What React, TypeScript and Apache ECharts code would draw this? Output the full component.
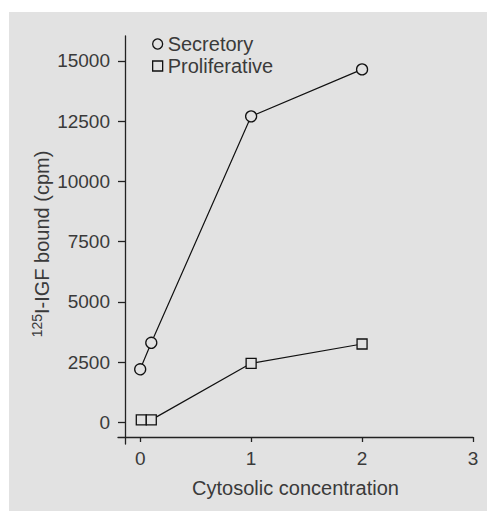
import React, { useEffect, useRef } from "react";
import * as echarts from "echarts";

const xTicks = [0, 1, 2, 3];
const yTicks = [0, 2500, 5000, 7500, 10000, 12500, 15000];
const secretoryX = [0, 0.1, 1, 2];
const secretoryY = [2200, 3300, 12700, 14650];
const proliferativeX = [0.01, 0.1, 1, 2];
const proliferativeY = [100, 100, 2450, 3250];
const seriesNames = ["Secretory", "Proliferative"];

const BG = "#e2e2e2";
const INK = "#111111";
const TXT = "#3a3a3a";
const FONT = "'Liberation Sans', Arial, sans-serif";

export default function App() {
  const ref = useRef<HTMLDivElement>(null);
  useEffect(() => {
    if (!ref.current) return;
    const chart = echarts.init(ref.current, null, { renderer: "svg" });
    const pair = (xs: number[], ys: number[]) => xs.map((x, i) => [x, ys[i]]);
    const symStyle = { color: BG, borderColor: INK, borderWidth: 1.3 };
    chart.setOption({
      animation: false,
      backgroundColor: "#ffffff",
      textStyle: { fontFamily: FONT },
      graphic: [
        {
          type: "rect",
          z: -10,
          silent: true,
          shape: { x: 9, y: 12, width: 478, height: 499 },
          style: { fill: BG },
        },
      ],
      grid: { left: 118, right: 14, top: 36, bottom: 68, containLabel: false },
      legend: {
        orient: "vertical",
        left: 152,
        top: 34,
        padding: 0,
        itemGap: 2,
        itemWidth: 10,
        itemHeight: 10,
        selectedMode: false,
        textStyle: { fontSize: 20, color: TXT, fontFamily: FONT },
        data: [
          { name: seriesNames[0], icon: "circle", itemStyle: symStyle },
          { name: seriesNames[1], icon: "rect", itemStyle: symStyle },
        ],
      },
      xAxis: {
        type: "value",
        min: -0.2,
        max: 3,
        offset: -7,
        name: "Cytosolic concentration",
        nameLocation: "middle",
        nameGap: 41,
        nameMoveOverlap: false,
        nameTextStyle: { fontSize: 20, color: TXT, fontFamily: FONT },
        axisLine: { show: true, onZero: false, lineStyle: { color: "#222", width: 1.3 } },
        axisTick: { show: true, length: 5, customValues: xTicks, lineStyle: { color: "#222", width: 1.3 } },
        axisLabel: {
          customValues: xTicks,
          fontSize: 19,
          color: TXT,
          margin: 12,
          fontFamily: FONT,
          formatter: (v: number) => String(v),
        },
        splitLine: { show: false },
      },
      yAxis: {
        type: "value",
        min: -901,
        max: 16036,
        offset: -7,
        name: "{sup|125}{main|I-IGF bound (cpm)}",
        nameLocation: "middle",
        nameRotate: 90,
        nameGap: 71,
        nameMoveOverlap: false,
        nameTextStyle: {
          color: TXT,
          fontFamily: FONT,
          fontSize: 20,
          padding: [0, 8, 0, 0],
          rich: {
            sup: { fontSize: 14, lineHeight: 24, verticalAlign: "top", color: TXT, fontFamily: FONT },
            main: { fontSize: 20, lineHeight: 24, verticalAlign: "middle", color: TXT, fontFamily: FONT },
          },
        },
        axisLine: { show: true, onZero: false, lineStyle: { color: "#222", width: 1.3 } },
        axisTick: { show: true, length: 7, customValues: yTicks, lineStyle: { color: "#222", width: 1.3 } },
        axisLabel: {
          customValues: yTicks,
          fontSize: 19,
          color: TXT,
          margin: 15,
          fontFamily: FONT,
          formatter: (v: number) => String(v),
        },
        splitLine: { show: false },
      },
      series: [
        {
          name: seriesNames[0],
          type: "line",
          data: pair(secretoryX, secretoryY),
          symbol: "circle",
          symbolSize: 11,
          showAllSymbol: true,
          itemStyle: symStyle,
          lineStyle: { color: INK, width: 1.2 },
        },
        {
          name: seriesNames[1],
          type: "line",
          data: pair(proliferativeX, proliferativeY),
          symbol: "rect",
          symbolSize: 10,
          showAllSymbol: true,
          itemStyle: symStyle,
          lineStyle: { color: INK, width: 1.2 },
        },
      ],
    });
    return () => chart.dispose();
  }, []);
  return (
    <div
      ref={ref}
      style={{ position: "absolute", left: 0, top: 0, width: 487, height: 512 }}
    />
  );
}
